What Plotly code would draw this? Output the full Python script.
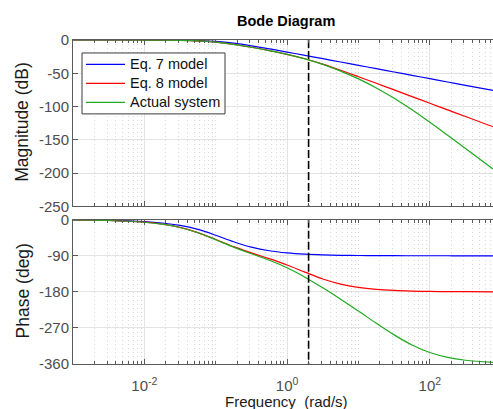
import plotly.graph_objects as go

# ---------------- data ----------------
freq = [0.001, 0.003162, 0.01, 0.01778, 0.03162, 0.05623, 0.1, 0.1778, 0.3162,
        0.5623, 1.0, 1.778, 3.162, 5.623, 10.0, 17.78, 31.62, 56.23, 100.0,
        177.8, 316.2, 767.4]

mag_eq7 = [0.0, -0.003, -0.03, -0.09, -0.27, -0.80, -2.15, -4.80, -8.69, -13.27,
           -18.13, -23.08, -28.07, -33.06, -38.06, -43.06, -48.06, -53.06, -58.06,
           -63.06, -68.06, -75.76]
mag_eq8 = [0.0, -0.005, -0.05, -0.15, -0.45, -1.28, -3.20, -6.49, -10.85, -15.85,
           -21.49, -28.19, -36.27, -45.43, -55.13, -65.03, -75.00, -84.99, -94.99,
           -104.99, -114.99, -130.39]
mag_act = [0.0, -0.005, -0.05, -0.15, -0.45, -1.28, -3.20, -6.49, -10.85, -15.86,
           -21.54, -28.33, -36.71, -46.71, -58.40, -72.00, -87.52, -104.86, -123.63,
           -143.17, -163.02, -193.76]

ph_eq7 = [-0.46, -1.45, -4.57, -8.10, -14.2, -24.2, -38.66, -54.9, -68.4, -77.5,
          -82.9, -85.98, -87.74, -88.73, -89.28, -89.60, -89.77, -89.87, -89.93,
          -89.96, -89.98, -89.99]
ph_eq8 = [-0.63, -1.98, -6.25, -11.03, -19.19, -32.06, -49.21, -67.1, -82.78, -97.2,
          -112.9, -130.7, -147.9, -160.8, -168.96, -173.74, -176.48, -178.0, -178.9,
          -179.37, -179.64, -179.86]
ph_act = [-0.64, -2.00, -6.32, -11.16, -19.42, -32.46, -49.93, -68.37, -85.04, -101.2,
          -120.0, -143.3, -170.0, -198.2, -228.0, -258.3, -287.3, -312.5, -331.4,
          -343.5, -350.6, -356.1]

series_names = ["Eq. 7 model", "Eq. 8 model", "Actual system"]
series_colors = ["#0000ff", "#ff0000", "#1faa1f"]

marker_freq = 2.0          # dashed vertical line
mag_ticks = [0, -50, -100, -150, -200, -250]
mag_labels = ["0", "-50", "-100", "-150", "-200", "-250"]
ph_ticks = [0, -90, -180, -270, -360]
ph_labels = ["0", "-90", "-180", "-270", "-360"]
x_major = [0.01, 1, 100]
x_major_labels = ["10<sup>-2</sup>", "10<sup>0</sup>", "10<sup>2</sup>"]

# minor tick positions on the log axis (2..9 x decade and odd decades)
x_minor = []
for k in range(-3, 3):
    for m in range(1, 10):
        v = m * 10.0 ** k
        if v not in x_major and v < 800:
            x_minor.append(v)

# ---------------- figure ----------------
fig = go.Figure()
mags = [mag_eq7, mag_eq8, mag_act]
phs = [ph_eq7, ph_eq8, ph_act]
for name, col, m in zip(series_names, series_colors, mags):
    fig.add_trace(go.Scatter(x=freq, y=m, mode="lines", name=name, showlegend=False,
                             line=dict(color=col, width=1.2, shape="spline"),
                             xaxis="x", yaxis="y"))
for name, col, p in zip(series_names, series_colors, phs):
    fig.add_trace(go.Scatter(x=freq, y=p, mode="lines", name=name, showlegend=False,
                             line=dict(color=col, width=1.2, shape="spline"),
                             xaxis="x2", yaxis="y2"))

fig.add_trace(go.Scatter(x=[marker_freq, marker_freq], y=[0, -250], mode="lines",
                         showlegend=False, hoverinfo="skip",
                         line=dict(color="black", width=1.6, dash="8px,3px"),
                         xaxis="x", yaxis="y"))
fig.add_trace(go.Scatter(x=[marker_freq, marker_freq], y=[0, -360], mode="lines",
                         showlegend=False, hoverinfo="skip",
                         line=dict(color="black", width=1.6, dash="8px,3px"),
                         xaxis="x2", yaxis="y2"))

W, H = 493, 409
ML, MR, MT, MB = 73, 0, 40, 44.5
ph_h = H - MT - MB
top_dom = [(H - MB - 206.7) / ph_h, 1.0]
bot_dom = [0.0, (H - MB - 220.0) / ph_h]

FONT = "Liberation Sans, Arial, sans-serif"
AX = "#5a5a5a"
TICKC = "#4d4d4d"
GRID = "#e3e3e3"
MINORGRID = "#d9d9d9"

def xaxis_common(show_labels):
    return dict(type="log", range=[-3, 2.885], showline=True, linecolor=AX, linewidth=1,
                mirror="ticks", ticks="inside", ticklen=5, tickcolor=AX,
                tickmode="array", tickvals=x_major,
                ticktext=x_major_labels if show_labels else ["", "", ""],
                showticklabels=show_labels, ticklabelstandoff=8,
                tickfont=dict(family=FONT, size=15, color=TICKC),
                showgrid=True, gridcolor=GRID, gridwidth=1, zeroline=False,
                minor=dict(tickmode="array", tickvals=x_minor, ticks="inside", ticklen=3,
                           tickcolor=AX, showgrid=True, gridcolor=MINORGRID,
                           griddash="1px,3px", gridwidth=1),
                fixedrange=True)

xa = xaxis_common(False)
xa.update(domain=[0, 1], anchor="y")
xb = xaxis_common(True)
xb.update(domain=[0, 1], anchor="y2", matches="x")

ya = dict(domain=top_dom, range=[-250, 0], anchor="x", showline=True, linecolor=AX,
          linewidth=1, ticks="inside", ticklen=5, tickcolor=AX, tickmode="array",
          tickvals=mag_ticks, ticktext=mag_labels,
          tickfont=dict(family=FONT, size=15, color=TICKC),
          showgrid=True, gridcolor=GRID, zeroline=False, fixedrange=True)
yb = dict(domain=bot_dom, range=[-360, 0], anchor="x2", showline=True, linecolor=AX,
          linewidth=1, ticks="inside", ticklen=5, tickcolor=AX, tickmode="array",
          tickvals=ph_ticks, ticktext=ph_labels,
          tickfont=dict(family=FONT, size=15, color=TICKC),
          showgrid=True, gridcolor=GRID, zeroline=False, fixedrange=True)

pw = W - ML - MR
def px_x(px):
    return (px - ML) / pw
def px_y(py):
    return (H - MB - py) / ph_h

# legend box drawn in paper coordinates (entries spaced like the reference)
leg_left, leg_right, leg_top, leg_bottom = 82, 225, 53, 114
leg_rows = [64.5, 83.5, 102.5]
shapes = [dict(type="rect", xref="paper", yref="paper",
               x0=px_x(leg_left), x1=px_x(leg_right), y0=px_y(leg_bottom), y1=px_y(leg_top),
               fillcolor="white", line=dict(color="#3a3a3a", width=1), layer="above")]
annotations = []
for name, col, ry in zip(series_names, series_colors, leg_rows):
    shapes.append(dict(type="line", xref="paper", yref="paper",
                       x0=px_x(86), x1=px_x(125), y0=px_y(ry), y1=px_y(ry),
                       line=dict(color=col, width=1.2), layer="above"))
    annotations.append(dict(text=name, xref="paper", yref="paper",
                            x=px_x(128), y=px_y(ry), xanchor="left", yanchor="middle",
                            showarrow=False,
                            font=dict(family=FONT, size=14.5, color="#111111")))

annotations += [
    dict(text="<b>Bode Diagram</b>", xref="paper", yref="paper",
         x=px_x(285.5), y=px_y(20.7), xanchor="center", yanchor="middle",
         showarrow=False, font=dict(family=FONT, size=14.5, color="#000000")),
    dict(text="Magnitude (dB)", xref="paper", yref="paper", textangle=-90,
         x=px_x(22.5), y=px_y(122.5), xanchor="center", yanchor="middle",
         showarrow=False, font=dict(family=FONT, size=17.5, color="#1a1a1a")),
    dict(text="Phase (deg)", xref="paper", yref="paper", textangle=-90,
         x=px_x(22.5), y=px_y(291.3), xanchor="center", yanchor="middle",
         showarrow=False, font=dict(family=FONT, size=17.5, color="#1a1a1a")),
    dict(text="Frequency \u00a0(rad/s)", xref="paper", yref="paper",
         x=px_x(286.5), y=px_y(402), xanchor="center", yanchor="middle",
         showarrow=False, font=dict(family=FONT, size=15, color="#1a1a1a")),
]

fig.update_layout(
    width=W, height=H,
    margin=dict(l=ML, r=MR, t=MT, b=MB, pad=0),
    paper_bgcolor="white", plot_bgcolor="white",
    font=dict(family=FONT, color="#262626"),
    xaxis=xa, xaxis2=xb, yaxis=ya, yaxis2=yb,
    showlegend=False,
    shapes=shapes,
    annotations=annotations,
)

fig.write_html("out.html")
